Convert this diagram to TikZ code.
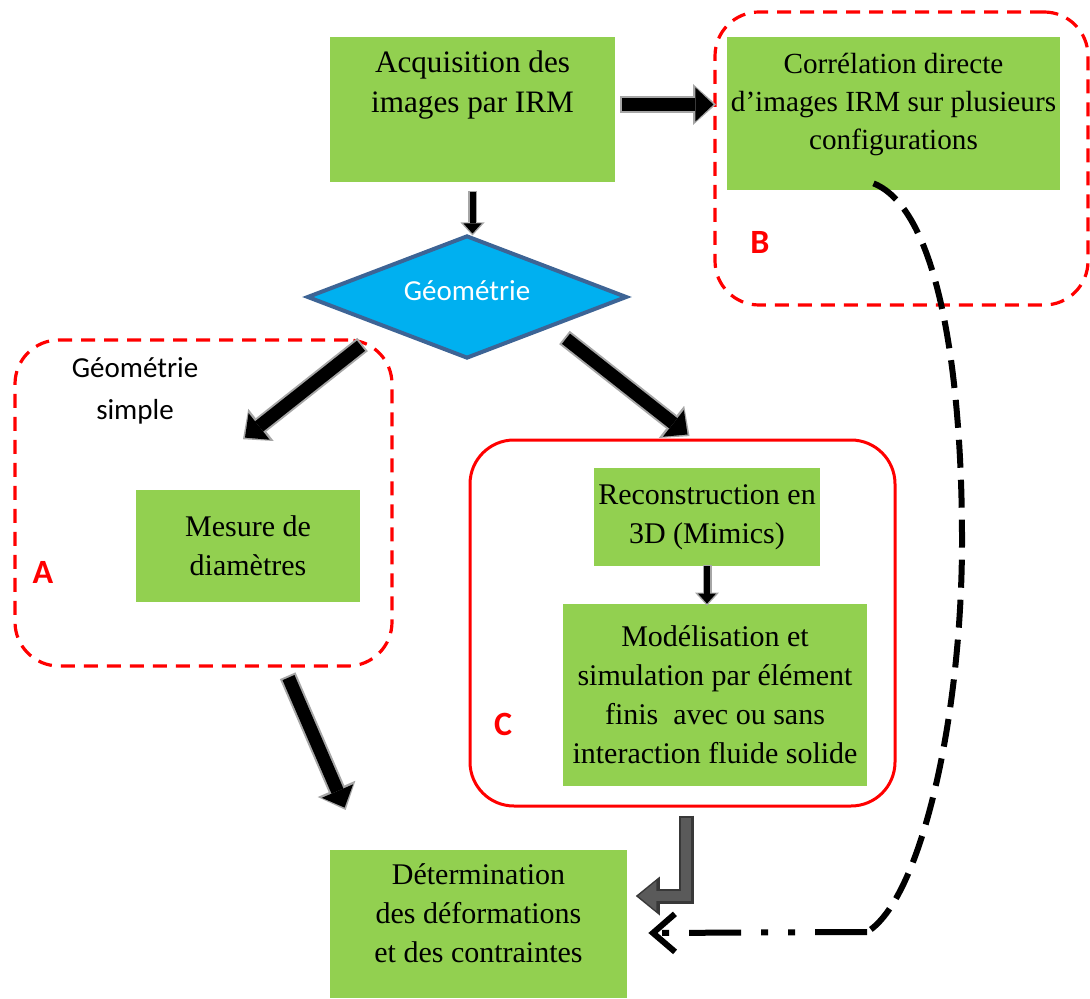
\documentclass[tikz,border=0pt]{standalone}
\usepackage{fontspec}
\setmainfont{Liberation Serif}
\newfontfamily\calib{Carlito}
\usetikzlibrary{positioning,arrows.meta,shapes.geometric}
\definecolor{leaf}{HTML}{92D050}
\definecolor{sky}{HTML}{00B0F0}
\definecolor{navy}{HTML}{3D6495}
\definecolor{edge}{HTML}{A6A6A6}
\definecolor{lgrey}{HTML}{5A5A5A}
\definecolor{dgrey}{HTML}{383838}

\begin{document}
\begin{tikzpicture}[x=0.5pt,y=-0.5pt,font=\fontsize{15}{19.5}\selectfont,
  gbox/.style={fill=leaf,align=center,inner sep=2pt},
  zone/.style={draw=red,line width=1.6pt,rounded corners=22pt,dash pattern=on 7pt off 4.5pt},
  tag/.style={text=red,font=\calib\bfseries\fontsize{17}{20}\selectfont},
  side/.style={font=\calib\fontsize{14.5}{21}\selectfont,align=center},
  blk/.style={black,line width=6.5pt,-{Triangle[length=9pt,width=17pt,line width=0pt]},
    preaction={draw=edge,line width=8.5pt,shorten >=-1.3pt,shorten <=-1pt,-{Triangle[length=11.5pt,width=20.5pt,line width=0pt]}}},
  sm/.style={black,line width=3pt,-{Triangle[length=5pt,width=9pt,line width=0pt]},
    preaction={draw=edge,line width=4.5pt,shorten >=-1pt,shorten <=-0.8pt,-{Triangle[length=6.5pt,width=12pt,line width=0pt]}}},
  larrow/.style={draw=lgrey,line width=5pt,line join=miter,-{Triangle[length=9pt,width=15pt,line width=0pt]},
    preaction={draw=dgrey,line width=7.5pt,line join=miter,shorten >=-1.3pt,shorten <=-1pt,-{Triangle[length=12pt,width=19.5pt,line width=0pt]}}},
  dcurve/.style={line width=3pt,dash pattern=on 14pt off 6pt},
  dback/.style={line width=3pt,dash pattern=on 26pt off 10pt on 3.5pt off 10pt on 3.5pt off 10pt,
    -{Straight Barb[length=11pt,width=19pt,line width=3pt]}}]
\useasboundingbox (0,0) rectangle (1090,999);
% zones
\node[zone,minimum width=186.5pt,minimum height=146.5pt] (regB) at (901.5,158.5) {};
\node[zone,minimum width=188.5pt,minimum height=163pt] (regA) at (203.5,503) {};
\node[draw=red,line width=1.5pt,rounded corners=22pt,minimum width=212.5pt,minimum height=183pt] (regC) at (682.5,623) {};
\node[tag] (tB) at (760,242) {B};
\node[tag] (tA) at (43,572) {A};
\node[tag] (tC) at (503,724) {C};
\node[side] (simple) at (135,391) {Géométrie\\simple};
% boxes
\node[gbox,minimum width=142.5pt,minimum height=72.5pt,text depth=28pt,font=\fontsize{15.6}{20}\selectfont] (acq) at (472.5,109.5) {Acquisition des\\images par IRM};
\node[gbox,minimum width=164.5pt,minimum height=76.5pt,text depth=12pt,font=\fontsize{14.6}{19}\selectfont] (corr) at (893.5,113.5) {Corrélation directe\\d’images IRM sur plusieurs\\configurations};
\node[diamond,shape aspect=2.6,fill=sky,draw=navy,line width=2pt,minimum width=160pt,minimum height=61.5pt,inner sep=0pt,
  text=white,text depth=6pt,font=\calib\fontsize{14.5}{17}\selectfont] (geo) at (467,297) {Géométrie};
\node[gbox,minimum width=112pt,minimum height=56pt] (meas) at (248,546) {Mesure de\\diamètres};
\node[gbox,minimum width=113pt,minimum height=49pt] (recon) at (707,517) {Reconstruction en\\3D (Mimics)};
\node[gbox,minimum width=152pt,minimum height=91pt] (model) at (715,695) {Modélisation et\\simulation par élément\\finis~ avec ou sans\\interaction fluide solide};
\node[gbox,minimum width=148.5pt,minimum height=74pt,text depth=11pt] (det) at (478.5,924) {Détermination\\des déformations\\et des contraintes};
% arrows
\draw[sm] ([yshift=-5pt]acq.south) coordinate (s1) -- (s1 |- geo.north);
\draw[sm] (recon.south) -- (recon.south |- model.north);
\draw[blk] ([xshift=3.5pt,yshift=2.5pt]acq.east) coordinate (s2) -- (s2 -| regB.west);
\draw[blk] ([xshift=-12.5pt,yshift=-8.5pt]geo.south west) -- ([xshift=-1.5pt,yshift=26pt]meas.north);
\draw[blk] ([xshift=9pt,yshift=-5pt]geo.south east) -- ([xshift=2.5pt,yshift=2pt]regC.north);
\draw[blk] ([xshift=42.5pt,yshift=-5pt]regA.south) -- ([xshift=7.5pt,yshift=21pt]det.north west);
\draw[larrow] ([xshift=1.75pt,yshift=-5pt]regC.south) |- ([xshift=5.5pt,yshift=14pt]det.east);
\coordinate (bend) at (867,932);
\draw[dcurve] ([xshift=-10pt,yshift=3.5pt]corr.south) .. controls (940,210) and (962,380) .. (962,540)
  .. controls (962,720) and (920,900) .. (bend);
\draw[dback] (bend) -- ([xshift=10.5pt,yshift=-4.5pt]det.east);
\end{tikzpicture}
\end{document}
